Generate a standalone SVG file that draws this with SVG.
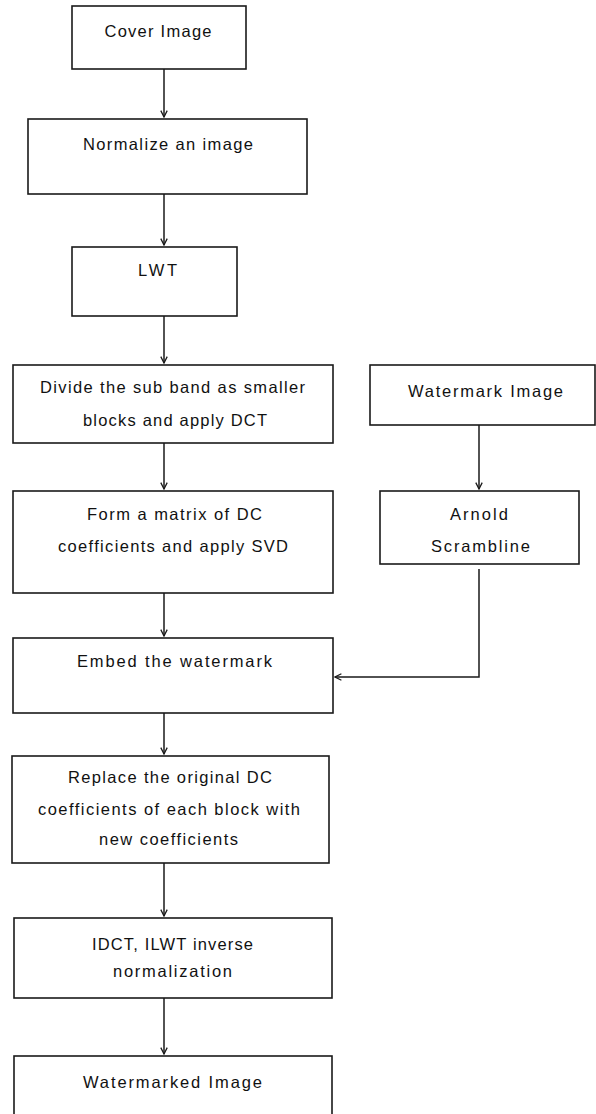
<svg xmlns="http://www.w3.org/2000/svg" width="596" height="1114" viewBox="0 0 596 1114">
<style>
.box{fill:#fff;stroke:#1a1a1a;stroke-width:1.6}
.t{font-family:"Liberation Sans",Arial,sans-serif;font-size:16.5px;fill:#111;text-anchor:middle}
.c{fill:none;stroke:#1a1a1a;stroke-width:1.5}
</style>
<defs>
<marker id="ah" viewBox="0 0 10 10" refX="9" refY="5" markerWidth="8" markerHeight="8" markerUnits="userSpaceOnUse" orient="auto">
<path d="M1,1 L9,5 L1,9" fill="none" stroke="#1a1a1a" stroke-width="1.6"/>
</marker>
</defs>
<rect width="596" height="1114" fill="#fff"/>
<g id="connectors">
<line class="c" x1="164" y1="69" x2="164" y2="117" marker-end="url(#ah)"/>
<line class="c" x1="164" y1="194" x2="164" y2="245" marker-end="url(#ah)"/>
<line class="c" x1="164" y1="316" x2="164" y2="363" marker-end="url(#ah)"/>
<line class="c" x1="164" y1="443" x2="164" y2="489" marker-end="url(#ah)"/>
<line class="c" x1="164" y1="593" x2="164" y2="636" marker-end="url(#ah)"/>
<line class="c" x1="479" y1="425" x2="479" y2="489" marker-end="url(#ah)"/>
<polyline class="c" points="479,569 479,677 335,677" marker-end="url(#ah)"/>
<line class="c" x1="164" y1="713" x2="164" y2="754" marker-end="url(#ah)"/>
<line class="c" x1="164" y1="863" x2="164" y2="916" marker-end="url(#ah)"/>
<line class="c" x1="164" y1="998" x2="164" y2="1054" marker-end="url(#ah)"/>
</g>
<g id="cover">
<rect class="box" x="72" y="6" width="174" height="63"/>
<text class="t" x="158" y="37" textLength="107" lengthAdjust="spacing">Cover Image</text>
</g>
<g id="normalize">
<rect class="box" x="28" y="119" width="279" height="75"/>
<text class="t" x="168" y="150" textLength="170" lengthAdjust="spacing">Normalize an image</text>
</g>
<g id="lwt">
<rect class="box" x="72" y="247" width="165" height="69"/>
<text class="t" x="157.5" y="276" textLength="39" lengthAdjust="spacing">LWT</text>
</g>
<g id="divide">
<rect class="box" x="13" y="365" width="320" height="78"/>
<text class="t" x="172.5" y="393" textLength="265" lengthAdjust="spacing">Divide the sub band as smaller</text>
<text class="t" x="175" y="426" textLength="184" lengthAdjust="spacing">blocks and apply DCT</text>
</g>
<g id="form">
<rect class="box" x="13" y="491" width="320" height="102"/>
<text class="t" x="174.5" y="520" textLength="175" lengthAdjust="spacing">Form a matrix of DC</text>
<text class="t" x="173" y="552" textLength="230" lengthAdjust="spacing">coefficients and apply SVD</text>
</g>
<g id="watermark">
<rect class="box" x="370" y="365" width="225" height="60"/>
<text class="t" x="485.5" y="397" textLength="155" lengthAdjust="spacing">Watermark Image</text>
</g>
<g id="arnold">
<rect class="box" x="380" y="491" width="199" height="73"/>
<text class="t" x="479" y="520" textLength="58" lengthAdjust="spacing">Arnold</text>
<text class="t" x="480.5" y="552" textLength="99" lengthAdjust="spacing">Scrambline</text>
</g>
<g id="embed">
<rect class="box" x="13" y="638" width="320" height="75"/>
<text class="t" x="174.5" y="667" textLength="195" lengthAdjust="spacing">Embed the watermark</text>
</g>
<g id="replace">
<rect class="box" x="12" y="756" width="317" height="107"/>
<text class="t" x="170" y="783" textLength="204" lengthAdjust="spacing">Replace the original DC</text>
<text class="t" x="169" y="815" textLength="262" lengthAdjust="spacing">coefficients of each block with</text>
<text class="t" x="168.5" y="845" textLength="139" lengthAdjust="spacing">new coefficients</text>
</g>
<g id="idct">
<rect class="box" x="14" y="918" width="318" height="80"/>
<text class="t" x="172.5" y="950" textLength="161" lengthAdjust="spacing">IDCT, ILWT inverse</text>
<text class="t" x="172.5" y="977" textLength="119" lengthAdjust="spacing">normalization</text>
</g>
<g id="watermarked">
<rect class="box" x="14" y="1056" width="318" height="70"/>
<text class="t" x="172.5" y="1088" textLength="179" lengthAdjust="spacing">Watermarked Image</text>
</g>
</svg>
